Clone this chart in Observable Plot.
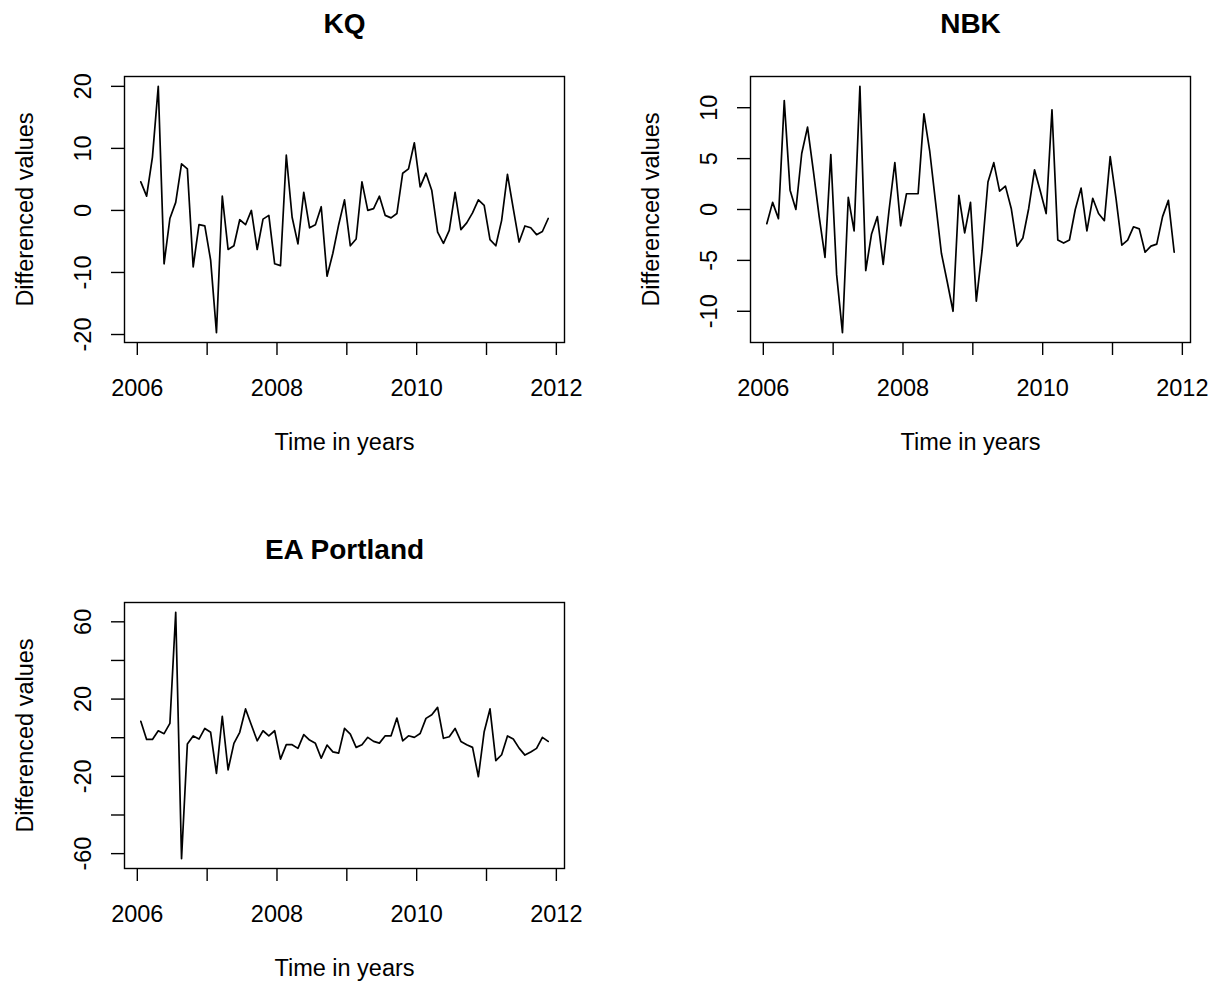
<!DOCTYPE html>
<html>
<head>
<meta charset="utf-8">
<script src="https://cdn.jsdelivr.net/npm/d3@7"></script>
<script src="https://cdn.jsdelivr.net/npm/@observablehq/plot@0.6"></script>
<style>
  body { margin: 0; background: #fff; }
  #chart { position: relative; width: 1225px; height: 985px; background: #fff; }
</style>
</head>
<body>
<div id="chart"></div>
<script>
// ---- data (monthly differenced values) ----
const startTime = 2006.05;
const stepYears = 1 / 12;

const kqValues = [
  4.6, 2.3, 8.6, 20.0, -8.6, -1.3, 1.3, 7.5, 6.7, -9.1,
  -2.3, -2.5, -8.0, -19.7, 2.3, -6.3, -5.7, -1.5, -2.3, 0.0,
  -6.3, -1.4, -0.8, -8.6, -8.9, 8.9, -1.1, -5.4, 2.9, -2.8,
  -2.3, 0.6, -10.6, -6.9, -2.3, 1.7, -5.7, -4.6, 4.6, 0.0,
  0.3, 2.3, -0.8, -1.2, -0.5, 6.0, 6.7, 10.9, 3.8, 6.0,
  3.2, -3.5, -5.3, -3.2, 2.9, -3.1, -2.0, -0.4, 1.7, 0.8,
  -4.7, -5.7, -1.6, 5.8, 0.3, -5.1, -2.5, -2.8, -3.9, -3.4,
  -1.3
];

const nbkValues = [
  -1.4, 0.7, -0.9, 10.7, 1.9, 0.0, 5.5, 8.1, 3.8, -0.7,
  -4.7, 5.4, -6.4, -12.1, 1.2, -2.1, 12.1, -6.0, -2.4, -0.7,
  -5.4, -0.1, 4.6, -1.6, 1.55, 1.55, 1.55, 9.4, 5.7, 0.7,
  -4.3, -7.1, -10.0, 1.4, -2.3, 0.7, -9.0, -4.0, 2.7, 4.6,
  1.8, 2.3, 0.1, -3.6, -2.8, 0.1, 3.9, 1.8, -0.4, 9.8,
  -3.0, -3.3, -3.0, 0.0, 2.1, -2.1, 1.1, -0.4, -1.1, 5.2,
  1.1, -3.5, -3.0, -1.7, -1.9, -4.2, -3.6, -3.4, -0.7, 0.9,
  -4.2
];

const eaValues = [
  8.5, -0.9, -0.9, 3.6, 2.1, 7.4, 64.9, -62.6, -3.3, 0.9,
  -0.7, 4.8, 2.8, -18.5, 11.1, -16.6, -2.9, 2.8, 14.9, 6.6,
  -1.6, 3.6, 1.0, 3.6, -11.1, -3.6, -3.6, -5.5, 1.6, -1.2,
  -2.9, -10.6, -3.8, -7.3, -8.0, 4.8, 1.9, -5.0, -3.6, 0.2,
  -1.9, -2.8, 1.0, 1.0, 10.2, -1.6, 1.0, 0.2, 2.2, 10.0,
  11.9, 15.7, -0.3, 0.5, 4.8, -1.9, -3.6, -5.0, -20.2, 3.1,
  14.9, -11.9, -8.8, 0.9, -0.7, -5.4, -9.0, -7.4, -5.5, 0.2,
  -1.9
];

const panelTitles = ["KQ", "NBK", "EA Portland"];
const xTitle = "Time in years";
const yTitle = "Differenced values";

const yearTicks = [2006, 2007, 2008, 2009, 2010, 2011, 2012];
const yearLabels = [2006, 2008, 2010, 2012];
const kqTicks = [-20, -10, 0, 10, 20];
const nbkTicks = [-10, -5, 0, 5, 10];
const eaTicks = [-60, -40, -20, 0, 20, 40, 60];
const eaLabels = [-60, -20, 20, 60];

// ---- drawing ----
const FONT = '"Liberation Sans", Arial, Helvetica, sans-serif';

function rPad(ext) {
  const r = ext[1] - ext[0];
  return [ext[0] - 0.04 * r, ext[1] + 0.04 * r];
}

function panel(title, values, ticks, labelled) {
  const data = values.map((v, i) => ({t: startTime + i * stepYears, v}));
  return Plot.plot({
    width: 599,
    height: 459,
    marginLeft: 124,
    marginRight: 35,
    marginTop: 76,
    marginBottom: 117,
    style: {fontFamily: FONT, fontSize: "23.5px", color: "black", background: "white", overflow: "visible"},
    x: {domain: rPad(d3.extent(data, d => d.t))},
    y: {domain: rPad(d3.extent(values))},
    marks: [
      Plot.frame({stroke: "black", strokeWidth: 1.4}),
      Plot.line(data, {x: "t", y: "v", stroke: "black", strokeWidth: 1.7}),
      Plot.axisX({
        ticks: yearTicks, tickSize: 13, tickPadding: 24, strokeWidth: 1.4,
        tickFormat: d => yearLabels.includes(d) ? String(d) : "", label: null
      }),
      Plot.axisY({
        ticks, tickSize: 13, tickPadding: 28, tickRotate: -90,
        textAnchor: "middle", lineAnchor: "middle", strokeWidth: 1.4,
        tickFormat: d => labelled.includes(d) ? String(d) : "", label: null
      }),
      Plot.text([title], {frameAnchor: "top", lineAnchor: "bottom", dy: -44, fontWeight: "bold", fontSize: 28, fill: "black"}),
      Plot.text([xTitle], {frameAnchor: "bottom", lineAnchor: "bottom", dy: 107, fill: "black"}),
      Plot.text([yTitle], {frameAnchor: "left", rotate: -90, textAnchor: "middle", lineAnchor: "bottom", dx: -92, fill: "black"})
    ]
  });
}

const chart = document.getElementById("chart");
const panels = [
  {svg: panel(panelTitles[0], kqValues, kqTicks, kqTicks), left: 0, top: 0},
  {svg: panel(panelTitles[1], nbkValues, nbkTicks, nbkTicks), left: 626, top: 0},
  {svg: panel(panelTitles[2], eaValues, eaTicks, eaLabels), left: 0, top: 526}
];
for (const p of panels) {
  p.svg.style.position = "absolute";
  p.svg.style.left = p.left + "px";
  p.svg.style.top = p.top + "px";
  chart.appendChild(p.svg);
}
</script>
</body>
</html>
